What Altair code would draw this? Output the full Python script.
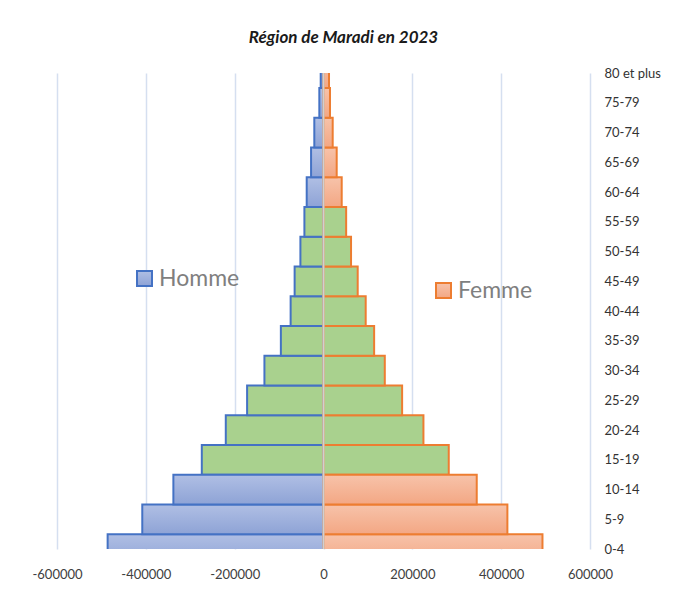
import json
import altair as alt
import pandas as pd

ages = ["0-4", "5-9", "10-14", "15-19", "20-24", "25-29", "30-34", "35-39",
        "40-44", "45-49", "50-54", "55-59", "60-64", "65-69", "70-74", "75-79",
        "80 et plus"]
homme = [486000, 408000, 338000, 274000, 220000, 172000, 133000, 96000,
         74000, 65000, 52000, 43000, 37800, 28000, 20700, 9400, 6300]
femme = [493000, 414000, 345000, 282000, 225000, 177000, 138000, 114000,
         95000, 77000, 62000, 51000, 41000, 29700, 20700, 14600, 12400]
green_ages = ages[3:12]          # 15-19 ... 55-59 drawn in green
x_ticks = [-600000, -400000, -200000, 0, 200000, 400000, 600000]
zero_line = [0]

rows = []
for i, a in enumerate(ages):
    rows.append({"age": a, "pos": i, "sex": "Homme", "value": -homme[i],
                 "green": a in green_ages})
    rows.append({"age": a, "pos": i, "sex": "Femme", "value": femme[i],
                 "green": a in green_ages})
df = pd.DataFrame(rows)

label_expr = json.dumps(ages) + "[datum.value]"
FONT = "Lato"

base = alt.Chart(df).transform_calculate(
    y0="datum.pos - 0.5", y1="datum.pos + 0.5"
).encode(
    x=alt.X("value:Q",
            scale=alt.Scale(domain=[-600000, 600000], nice=False, zero=False),
            axis=alt.Axis(values=x_ticks, labelExpr="datum.value + ''",
                          grid=True, gridColor="#d5dff0", gridWidth=1.5,
                          domain=False, ticks=False, labelFlush=False,
                          labelFont=FONT, labelFontSize=13,
                          labelColor="#404040", labelPadding=19, title=None)),
    x2=alt.X2(datum=0),
    y=alt.Y("y0:Q", scale=alt.Scale(domain=[0, 16], nice=False, zero=False),
            axis=alt.Axis(orient="right", values=list(range(len(ages))),
                          labelExpr=label_expr, grid=False, domain=False,
                          ticks=False, title=None, labelAlign="left",
                          labelPadding=14, labelFont=FONT, labelFontSize=13,
                          labelColor="#333333", labelOverlap=False)),
    y2="y1:Q",
)

blue_grad = alt.LinearGradient(
    gradient="linear", x1=0, x2=0, y1=0, y2=1,
    stops=[alt.GradientStop(color="#b0bfe4", offset=0),
           alt.GradientStop(color="#8ea3d6", offset=1)])
orange_grad = alt.LinearGradient(
    gradient="linear", x1=0, x2=0, y1=0, y2=1,
    stops=[alt.GradientStop(color="#f7c3aa", offset=0),
           alt.GradientStop(color="#f3a784", offset=1)])


def leg(x, y, fillc):
    return alt.Legend(title=None, orient="none", legendX=x, legendY=y,
                      symbolType="square", symbolSize=225,
                      symbolFillColor=fillc, symbolStrokeWidth=2,
                      symbolOpacity=1,
                      labelFont=FONT, labelFontSize=23, labelColor="#7f7f7f",
                      labelOffset=3, padding=0)


homme_col = base.transform_filter(
    "datum.sex == 'Homme' && !datum.green"
).mark_bar(clip=True, fill=blue_grad, strokeWidth=2, opacity=1).encode(
    stroke=alt.Stroke("sex:N", scale=alt.Scale(domain=["Homme"], range=["#4472c4"]),
                      legend=leg(76, 194, "#a3b5df"))
)
femme_col = base.transform_filter(
    "datum.sex == 'Femme' && !datum.green"
).mark_bar(clip=True, fill=orange_grad, strokeWidth=2, opacity=1).encode(
    stroke=alt.Stroke("sex:N", scale=alt.Scale(domain=["Femme"], range=["#ed7d31"]),
                      legend=leg(375, 206, "#f5b596"))
)
homme_green = base.transform_filter(
    "datum.sex == 'Homme' && datum.green"
).mark_bar(clip=True, fill="#a9d18e", stroke="#4472c4", strokeWidth=2, opacity=1)
femme_green = base.transform_filter(
    "datum.sex == 'Femme' && datum.green"
).mark_bar(clip=True, fill="#a9d18e", stroke="#ed7d31", strokeWidth=2, opacity=1)

zero = alt.Chart(pd.DataFrame({"z": zero_line})).mark_rule(
    color="#d0d0d0", strokeWidth=2
).encode(x="z:Q")

chart = alt.layer(
    homme_green, femme_green, homme_col, femme_col, zero
).resolve_scale(stroke="independent").properties(
    width=533, height=476,
    title=alt.TitleParams("Région de Maradi en 2023", font=FONT, fontSize=17,
                          fontStyle="italic", fontWeight="bold",
                          color="#1a1a1a", anchor="middle", offset=20, dx=20),
    autosize=alt.AutoSizeParams(type="none"),
    padding={"left": 49, "top": 65, "right": 81, "bottom": 32},
    background="white",
).configure_view(stroke=None)

chart.save("out.html", embed_options={"renderer": "svg", "actions": False})
